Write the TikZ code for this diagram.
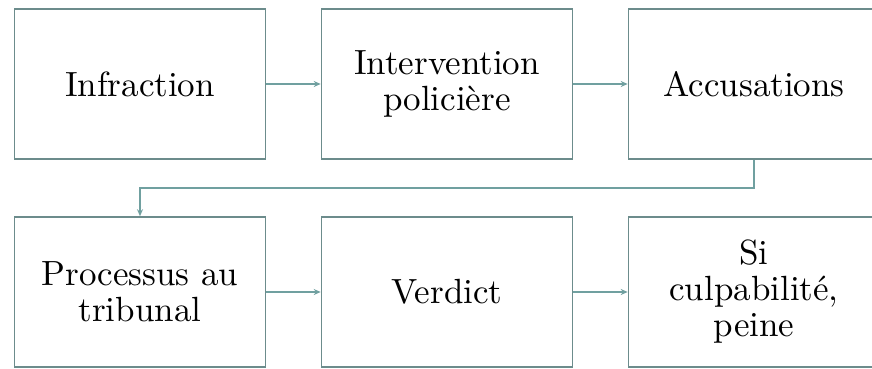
\documentclass[tikz,border=0pt]{standalone}
\usepackage{fontspec}
\setmainfont{lmroman10-regular}[Extension=.otf,BoldFont=lmroman10-bold]
\usetikzlibrary{arrows.meta}
\definecolor{boxline}{RGB}{108,140,140}
\definecolor{arrline}{RGB}{112,160,160}
\begin{document}
\begin{tikzpicture}[x=1pt,y=1pt,
  stepbox/.style={draw=boxline,line width=1.6pt,fill=white,minimum width=251pt,minimum height=150pt,
    align=center,inner sep=0pt,font=\fontsize{35}{36}\selectfont},
  flow/.style={draw=arrline,line width=1.6pt,-{Stealth[length=7pt,width=6pt]}}]
\useasboundingbox (0,0) rectangle (872,368);
\node[stepbox] (n1) at (140,284) {Infraction};
\node[stepbox] (n2) at (447,284) {Intervention\\policière};
\node[stepbox] (n3) at (754,284) {Accusations};
\node[stepbox] (n4) at (140,76) {Processus au\\tribunal};
\node[stepbox] (n5) at (447,76) {Verdict};
\node[stepbox] (n6) at (754,76) {Si\\culpabilité,\\peine};
\coordinate (m) at (140,180);
\draw[flow] (n1) -- (n2);
\draw[flow] (n2) -- (n3);
\draw[flow] (n3.south) |- (m) -- (n4.north);
\draw[flow] (n4) -- (n5);
\draw[flow] (n5) -- (n6);
\end{tikzpicture}
\end{document}
